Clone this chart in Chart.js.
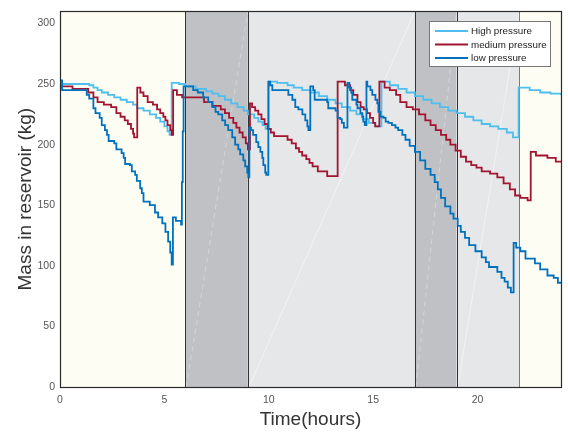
<!DOCTYPE html>
<html>
<head>
<meta charset="utf-8">
<script src="https://cdn.jsdelivr.net/npm/chart.js@4.4.0/dist/chart.umd.min.js"></script>
<style>
  html, body { margin: 0; padding: 0; background: #fff; }
</style>
</head>
<body>
<canvas id="myChart" width="568" height="434"></canvas>
<script>
// [time (h), mass (kg)] - each value holds from its time until the next one
const highSteps = [[0,252],[0.1,250],[1.4,249],[1.6,247],[1.8,245],[2.0,243],[2.3,241],[2.6,239],[2.9,237],[3.2,235],
  [3.5,233],[3.7,230],[4.0,228],[4.3,225],[4.6,222],[4.8,219],[5.0,215],[5.15,211],[5.25,208],[5.35,251],[5.7,250],
  [6.0,248],[6.5,246],[7.0,244],[7.3,242],[7.6,240],[7.9,237],[8.2,234],[8.5,231],[8.8,228],[9.0,225],[9.3,222],
  [9.5,219],[9.7,216],[9.85,213],[10.0,252],[10.4,251],[10.9,249],[11.2,247],[11.6,245],[12.0,243],[12.4,240],
  [12.8,237],[13.2,234],[13.5,231],[13.9,228],[14.2,225],[14.5,221],[14.8,218],[15.1,215],[15.4,252],[15.8,249],
  [16.2,246],[16.6,243],[17.0,240],[17.4,237],[17.8,234],[18.2,231],[18.6,228],[19.0,226],[19.4,223],[19.8,220],
  [20.2,217],[20.6,215],[21.0,213],[21.4,210],[21.7,206],[21.97,247],[22.5,245],[23.0,243],[23.5,242],[24,241]];

const mediumSteps = [[0,248],[0.6,246],[1.35,243],[1.6,239],[1.8,235],[2.1,233],[2.45,231],[2.7,226],[2.9,223],
  [3.1,220],[3.25,217],[3.4,213],[3.5,209],[3.55,206],[3.7,247],[3.85,243],[4.0,240],[4.2,235],[4.45,233],[4.65,229],
  [4.8,226],[4.95,223],[5.05,220],[5.15,216],[5.28,212],[5.35,208],[5.42,245],[5.6,241],[5.85,239],[6.9,235],
  [7.3,232],[7.7,229],[7.9,226],[8.1,222],[8.3,218],[8.45,214],[8.6,210],[8.75,206],[8.9,201],[9.0,196],[9.1,234],
  [9.2,231],[9.35,228],[9.5,225],[9.65,221],[9.8,217],[9.95,213],[10.1,210],[10.25,207],[10.9,204],[11.1,201],
  [11.3,197],[11.45,194],[11.6,191],[11.8,188],[11.95,185],[12.1,182],[12.35,178],[12.8,174],[13.3,252],[13.65,249],
  [13.9,245],[14.05,241],[14.25,235],[14.4,231],[14.55,229],[14.7,226],[14.85,222],[15.0,218],[15.1,215],[15.3,252],
  [15.55,247],[15.8,245],[16.1,241],[16.3,235],[16.6,231],[16.9,229],[17.2,225],[17.5,220],[17.75,216],[18.0,212],
  [18.25,208],[18.5,204],[18.7,200],[18.95,195],[19.2,190],[19.45,186],[19.7,183],[19.95,181],[20.2,178],[20.6,176],
  [20.95,173],[21.25,168],[21.55,163],[21.8,158],[22.05,156],[22.4,154],[22.55,194],[22.8,191],[23.35,189],
  [23.75,186],[24,186]];

const lowSteps = [[0,253],[0.1,245],[1.28,241],[1.4,238],[1.6,230],[1.7,226],[1.9,222],[2.0,216],[2.15,212],
  [2.25,208],[2.33,203],[2.6,201],[2.7,196],[2.95,193],[3.05,189],[3.12,184],[3.35,183],[3.44,178],[3.6,175],
  [3.68,170],[3.84,164],[3.92,160],[4.0,153],[4.3,150],[4.55,144],[4.7,140],[4.9,135],[5.05,128],[5.18,120],
  [5.28,111],[5.35,101],[5.41,140],[5.55,137],[5.8,134],[5.84,169],[5.88,211],[5.92,248],[6.38,245],[6.6,243],
  [6.86,239],[7.1,235],[7.3,231],[7.45,227],[7.58,225],[7.77,220],[7.91,216],[8.06,212],[8.25,206],[8.39,200],
  [8.54,196],[8.63,192],[8.78,187],[8.87,182],[8.97,177],[9.02,173],[9.07,214],[9.15,212],[9.25,208],[9.4,202],
  [9.5,198],[9.6,194],[9.69,189],[9.74,183],[9.83,177],[9.88,175],[9.98,252],[10.07,249],[10.17,245],[10.94,241],
  [11.13,237],[11.27,231],[11.42,229],[11.61,225],[11.75,220],[11.85,215],[11.9,212],[11.99,248],[12.13,245],
  [12.2,237],[12.8,235],[12.85,230],[13.2,228],[13.3,222],[13.43,221],[13.5,218],[13.6,214],[13.77,251],[13.86,247],
  [13.95,243],[14.0,237],[14.2,233],[14.25,230],[14.39,226],[14.48,223],[14.53,219],[14.6,216],[14.68,252],
  [14.72,248],[14.87,245],[14.96,241],[15.11,237],[15.2,234],[15.25,227],[15.35,223],[15.5,222],[15.6,219],
  [15.73,218],[15.9,216],[16.07,214],[16.2,212],[16.4,208],[16.55,204],[16.75,199],[17.0,194],[17.25,187],
  [17.5,180],[17.75,175],[17.95,169],[18.1,163],[18.25,156],[18.45,149],[18.7,143],[18.85,139],[19.05,133],
  [19.2,128],[19.4,123],[19.6,117],[19.9,112],[20.2,107],[20.4,103],[20.55,99],[20.95,95],[21.15,90],[21.3,87],
  [21.45,82],[21.6,78],[21.73,119],[21.85,115],[22.05,112],[22.3,106],[22.75,102],[23.0,97],[23.35,92],[23.65,90],
  [23.85,86],[24,86]];

const seriesNames = ['High pressure', 'medium pressure', 'low pressure'];

// tariff periods over the day: [start, end, kind]
const periods = [[0,6,'off'],[6,9,'peak'],[9,17,'mid'],[17,19,'peak'],[19,22,'mid'],[22,24,'off']];

const xTicks = [0, 5, 10, 15, 20];
const yTicks = [0, 50, 100, 150, 200, 250, 300];

const periodFill = { off: '#fefdf3', peak: '#c0c1c5', mid: '#e6e7e9' };
const lineColors = ['#4dbeee', '#a2142f', '#0072bd'];
const FONT = '"Liberation Sans", Arial, sans-serif';

const toPoints = steps => steps.map(s => ({ x: s[0], y: s[1] }));

const bgPlugin = {
    id: 'periods',
    beforeDatasetsDraw(chart) {
        const { ctx, chartArea: a, scales: { x } } = chart;
        ctx.save();
        periods.forEach(p => {
            const x0 = x.getPixelForValue(p[0]);
            const x1 = x.getPixelForValue(p[1]);
            ctx.fillStyle = periodFill[p[2]];
            ctx.fillRect(x0, a.top, x1 - x0, a.bottom - a.top);

            // faint diagonal seam seen in the shaded patches
            if (p[2] !== 'off') {
                ctx.beginPath();
                ctx.strokeStyle = p[2] === 'peak' ? 'rgba(255,255,255,0.4)' : 'rgba(255,255,255,0.6)';
                ctx.lineWidth = 0.8;
                ctx.setLineDash(p[2] === 'peak' ? [5, 4] : []);
                ctx.moveTo(x0 + 1, a.bottom);
                ctx.lineTo(x1, a.top);
                ctx.stroke();
                ctx.setLineDash([]);
            }
        });
        // period boundaries
        periods.slice(1).forEach(p => {
            const px = Math.round(x.getPixelForValue(p[0])) + 0.5;
            ctx.beginPath();
            ctx.strokeStyle = p[0] === 22 ? '#7a7a7a' : '#333';
            ctx.lineWidth = 1;
            ctx.moveTo(px, a.top);
            ctx.lineTo(px, a.bottom);
            ctx.stroke();
        });
        ctx.restore();
    },
    afterDatasetsDraw(chart) {
        const { ctx, chartArea: a } = chart;
        ctx.save();
        ctx.strokeStyle = '#2a2a2a';
        ctx.lineWidth = 1.2;
        ctx.strokeRect(Math.round(a.left) + 0.5, Math.round(a.top) + 0.5,
            Math.round(a.right - a.left), Math.round(a.bottom - a.top));

        // legend box, top right inside the plot
        const bx = 429, by = 21, bw = 121, bh = 45;
        ctx.fillStyle = '#fff';
        ctx.fillRect(bx, by, bw, bh);
        ctx.strokeStyle = '#777';
        ctx.lineWidth = 1;
        ctx.strokeRect(bx + 0.5, by + 0.5, bw, bh);
        ctx.font = '9.8px ' + FONT;
        ctx.textBaseline = 'middle';
        seriesNames.forEach((name, i) => {
            const y = by + 10 + i * 13.5;
            ctx.beginPath();
            ctx.strokeStyle = lineColors[i];
            ctx.lineWidth = 1.8;
            ctx.moveTo(bx + 6, y);
            ctx.lineTo(bx + 39, y);
            ctx.stroke();
            ctx.fillStyle = '#222';
            ctx.fillText(name, bx + 42, y + 0.5);
        });
        ctx.restore();
    }
};

const renderChart = () => {
    const datasets = [highSteps, mediumSteps, lowSteps].map((steps, i) => ({
        label: seriesNames[i],
        data: toPoints(steps),
        borderColor: lineColors[i],
        borderWidth: 1.8,
        stepped: 'before',
        pointRadius: 0,
        fill: false,
        order: 3 - i
    }));

    const config = {
        type: 'line',
        data: { datasets: datasets },
        options: {
            responsive: false,
            animation: false,
            layout: { padding: { top: 11, right: 7, left: 0, bottom: 0 } },
            plugins: { legend: { display: false }, tooltip: { enabled: false } },
            scales: {
                x: {
                    type: 'linear',
                    min: 0,
                    max: 24,
                    afterBuildTicks: s => { s.ticks = xTicks.map(v => ({ value: v })); },
                    afterFit: s => { s.height = 47; },
                    grid: { display: false, drawTicks: false },
                    border: { display: false },
                    ticks: { padding: 7, color: '#555', font: { family: FONT, size: 10.5 } },
                    title: {
                        display: true,
                        text: 'Time(hours)',
                        color: '#333',
                        font: { family: FONT, size: 19 },
                        padding: { top: 0, bottom: 3 }
                    }
                },
                y: {
                    min: 0,
                    max: 310,
                    afterBuildTicks: s => { s.ticks = yTicks.map(v => ({ value: v })); },
                    afterFit: s => { s.width = 60; },
                    grid: { display: false, drawTicks: false },
                    border: { display: false },
                    ticks: { padding: 5, color: '#555', font: { family: FONT, size: 10.5 } },
                    title: {
                        display: true,
                        text: 'Mass in reservoir (kg)',
                        color: '#333',
                        font: { family: FONT, size: 19 },
                        padding: { top: 14, bottom: 0 }
                    }
                }
            }
        },
        plugins: [bgPlugin]
    };

    const ctx = document.getElementById('myChart').getContext('2d');
    new Chart(ctx, config);
};

renderChart();
</script>
</body>
</html>
